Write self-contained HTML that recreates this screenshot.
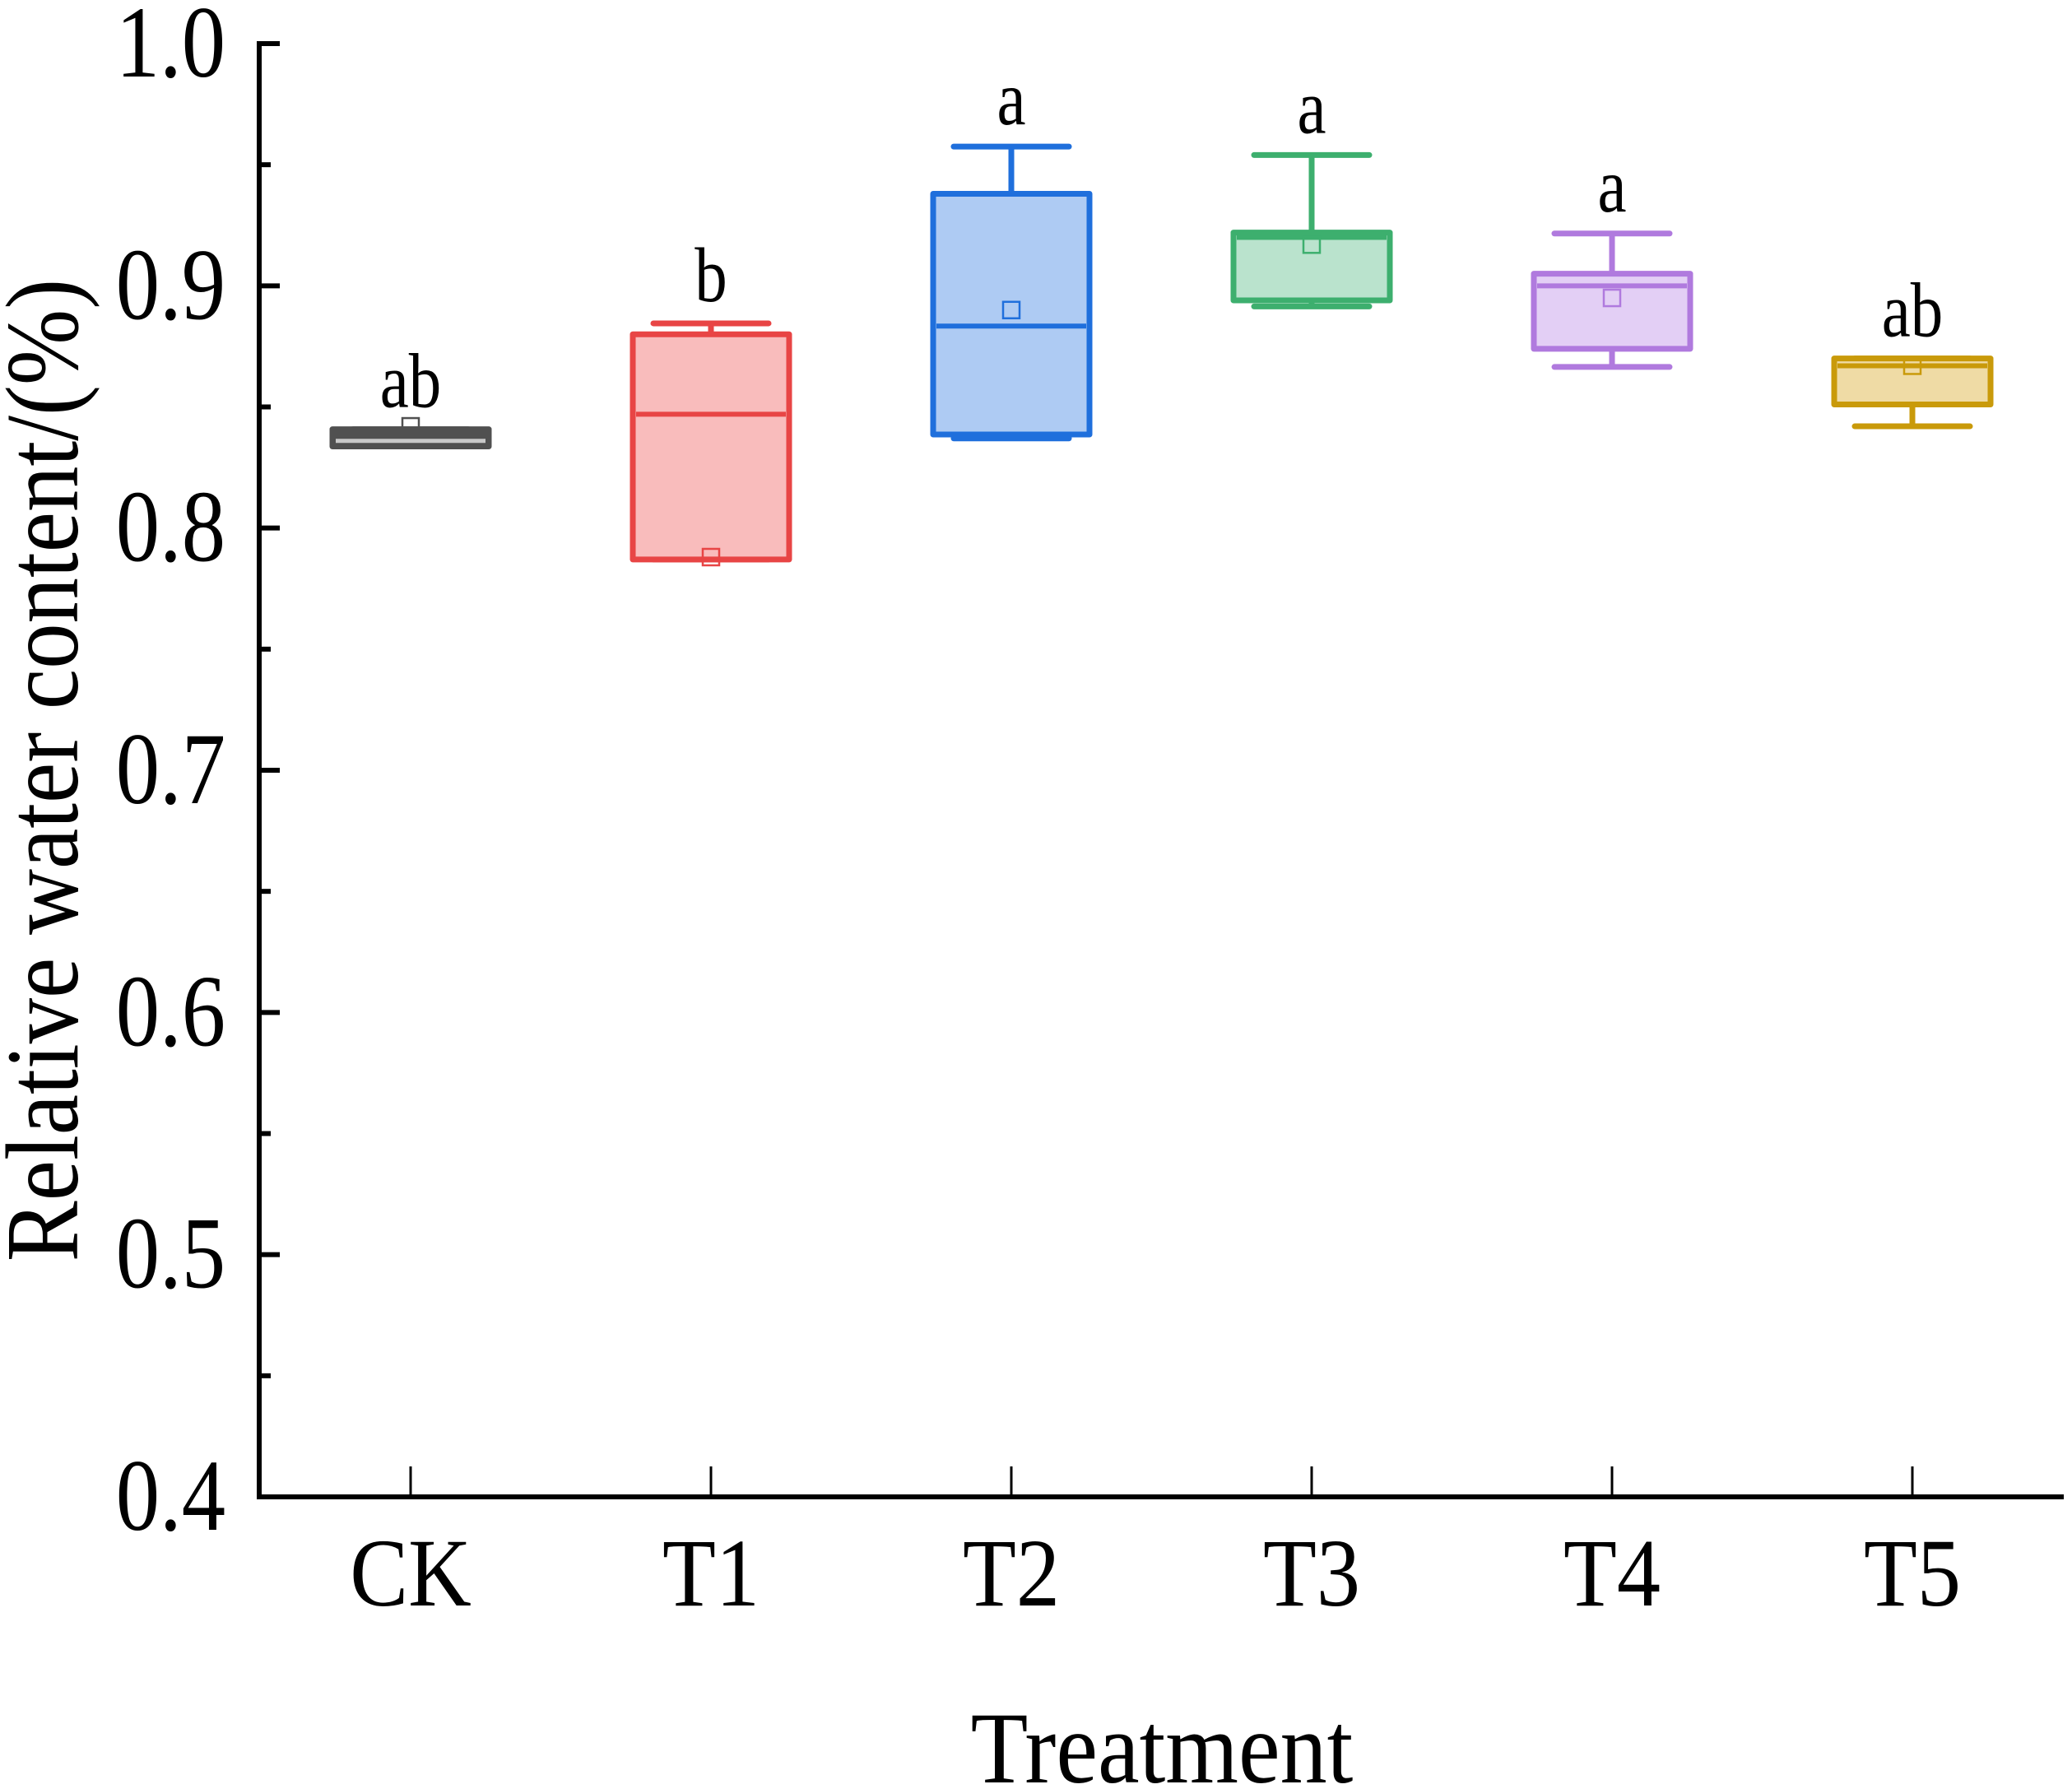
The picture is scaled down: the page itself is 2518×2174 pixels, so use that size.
<!DOCTYPE html>
<html><head><meta charset="utf-8"><style>
html,body{margin:0;padding:0;background:#fff;}
svg{display:block;}
text{font-family:"Liberation Serif","Times New Roman",serif;fill:#000;}
</style></head><body>
<svg id="chart" width="2518" height="2174" viewBox="0 0 2518 2174" xmlns="http://www.w3.org/2000/svg">
<g id="axes"></g>
<g id="boxes"></g>
<text transform="translate(1412,2166) scale(0.92,1)" font-size="124" text-anchor="middle">Treatment</text>
<text transform="translate(94,936) rotate(-90) scale(0.88,1)" font-size="126" text-anchor="middle">Relative water content/(%)</text>
</svg>
<script>
const categories = ["CK","T1","T2","T3","T4","T5"];
const whiskerHigh = [0.8408,0.8845,0.9575,0.954,0.9216,0.870];
const q3 = [0.8408,0.880,0.938,0.922,0.905,0.870];
const medians = [0.836,0.847,0.8834,0.920,0.900,0.867];
const q1 = [0.8337,0.787,0.8386,0.894,0.874,0.851];
const whiskerLow = [0.8337,0.787,0.837,0.8915,0.8665,0.842];
const means = [0.842,0.788,0.890,0.917,0.895,0.867];
const letters = ["ab","b","a","a","a","ab"];
const yTicks = ["0.4","0.5","0.6","0.7","0.8","0.9","1.0"];
const edgeColors = ["#505050","#e84545","#1f6fdc","#3daf6e","#b07ade","#c99a0a"];
const fillColors = ["#505050","#f9bcbc","#aecbf3","#bae3cd","#e3cff5","#efdba5"];
const medianColors = ["#c8c8c8","#e84545","#1f6fdc","#3daf6e","#b07ade","#c99a0a"];

const NS="http://www.w3.org/2000/svg";
const X0=315, X1=2508, Y0=1819, Y1=53;
const yMin=0.4, yMax=1.0;
function yS(v){return Y0-(v-yMin)/(yMax-yMin)*(Y0-Y1);}
function xS(i){return 499+i*365;}
function mk(tag,attrs,parent){const e=document.createElementNS(NS,tag);for(const k in attrs)e.setAttribute(k,attrs[k]);parent.appendChild(e);return e;}
const axes=document.getElementById('axes'), boxes=document.getElementById('boxes');

let l=mk('line',{x1:X0,y1:Y1-3,x2:X0,y2:Y0+3,stroke:'#000','stroke-width':6},axes);


l=mk('line',{x1:X0-3,y1:Y0,x2:X1,y2:Y0,stroke:'#000','stroke-width':6},axes);



yTicks.forEach((t,i)=>{
  const v=parseFloat(t), y=yS(v);
  if(i>0){const tk=mk('line',{x1:X0,y1:y,x2:X0+25,y2:y,stroke:'#000','stroke-width':6},axes);
    
    }
  if(i<yTicks.length-1){const ym=yS(v+0.05);const mt=mk('line',{x1:X0,y1:ym,x2:X0+14,y2:ym,stroke:'#000','stroke-width':6},axes);
    
    }
  const tx=mk('text',{transform:'translate(274,'+(y+40)+') scale(0.86,1)','font-size':124,'text-anchor':'end'},axes);
  
  
  tx.textContent=t;
});

categories.forEach((c,i)=>{
  const x=xS(i);
  const tk=mk('line',{x1:x,y1:Y0,x2:x,y2:Y0-37,stroke:'#000','stroke-width':3},axes);
  
  
  const tx=mk('text',{transform:'translate('+x+',1951) scale(0.9,1)','font-size':118,'text-anchor':'middle'},axes);
  
  
  tx.textContent=c;

  const g=mk('g',{},boxes);
  
  
  const ec=edgeColors[i], hw=95, cw=70, sw=7;
  mk('line',{x1:x,y1:yS(whiskerHigh[i]),x2:x,y2:yS(q3[i]),stroke:ec,'stroke-width':sw},g);
  mk('line',{x1:x,y1:yS(q1[i]),x2:x,y2:yS(whiskerLow[i]),stroke:ec,'stroke-width':sw},g);
  mk('line',{x1:x-cw,y1:yS(whiskerHigh[i]),x2:x+cw,y2:yS(whiskerHigh[i]),stroke:ec,'stroke-width':sw,'stroke-linecap':'round'},g);
  mk('line',{x1:x-cw,y1:yS(whiskerLow[i]),x2:x+cw,y2:yS(whiskerLow[i]),stroke:ec,'stroke-width':sw,'stroke-linecap':'round'},g);
  const top=yS(q3[i]), bot=yS(q1[i]);
  mk('rect',{x:x-hw,y:top,width:2*hw,height:Math.max(1,bot-top),fill:fillColors[i],stroke:ec,'stroke-width':sw,'stroke-linejoin':'round'},g);
  mk('line',{x1:x-hw+4,y1:yS(medians[i]),x2:x+hw-4,y2:yS(medians[i]),stroke:medianColors[i],'stroke-width':i===0?5:6},g);
  const my=yS(means[i]);
  const m=mk('rect',{x:x-10,y:my-10,width:20,height:20,fill:'none',stroke:ec,'stroke-width':2.5},g);
  
  
  const lt=mk('text',{transform:'translate('+x+','+(yS(whiskerHigh[i])-27)+') scale(0.84,1)','font-size':94,'text-anchor':'middle'},g);
  
  
  lt.textContent=letters[i];
});
</script>
</body></html>
